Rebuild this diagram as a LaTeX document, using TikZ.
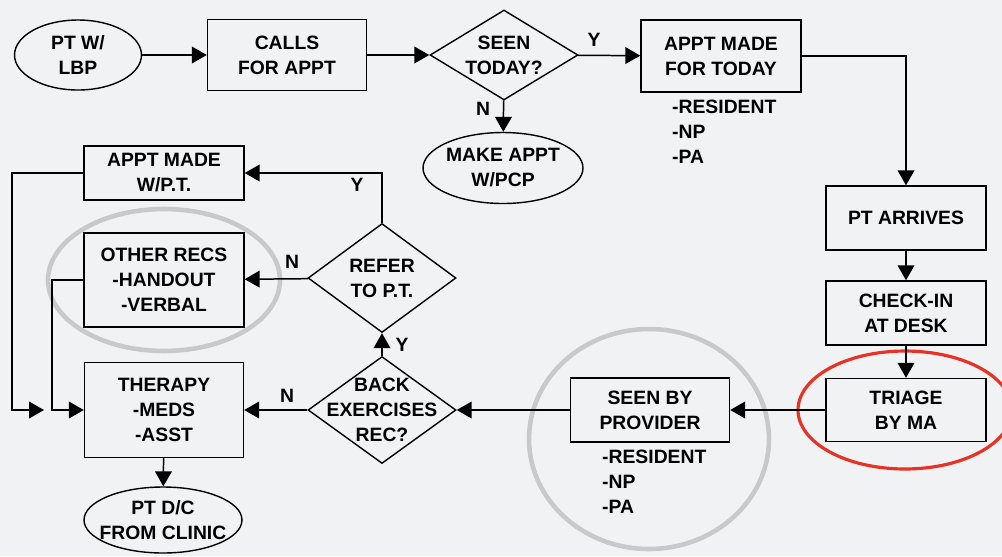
\documentclass[tikz,border=0pt]{standalone}
\usepackage{fontspec}
\setmainfont{Liberation Sans}
\usetikzlibrary{arrows.meta,shapes.geometric}

\definecolor{paper}{RGB}{241,242,244}
\definecolor{ringgray}{RGB}{200,201,203}
\definecolor{ringred}{RGB}{232,50,36}

\begin{document}
\begin{tikzpicture}[
  x=0.02cm, y=-0.02cm,
  font=\fontsize{11}{14.2}\selectfont\bfseries,
  box/.style={draw, line width=0.8pt, align=center, inner sep=2pt},
  oval/.style={draw, ellipse, line width=0.8pt, inner sep=0pt},
  dec/.style={draw, diamond, line width=0.8pt, inner sep=0pt},
  inner/.style={align=center},
  arr/.style={-{Triangle[length=8.5pt,width=9.5pt]}, line width=0.85pt},
  yn/.style={inner sep=0pt},
  ring/.style={draw=ringgray, line width=2.6pt},
  redring/.style={draw=ringred, line width=1.8pt}
]
\path[use as bounding box, fill=paper] (0,0) rectangle (1002,556);

% highlight rings
\draw[ring] (164,280) ellipse [x radius=2.32cm, y radius=1.42cm];
\draw[ring] (649,439) ellipse [x radius=2.40cm, y radius=2.20cm];
\draw[redring] (905,410) ellipse [x radius=2.14cm, y radius=1.18cm];

% top row
\node[oval, minimum width=2.54cm, minimum height=1.40cm,
      label={[inner]center:{PT W/\\LBP}}] (ptlbp) at (78,55) {};
\node[box, minimum width=3.18cm, minimum height=1.42cm] (calls) at (287,55) {CALLS\\FOR APPT};
\node[dec, minimum width=2.96cm, minimum height=1.80cm,
      label={[inner]center:{SEEN\\TODAY?}}] (seen) at (504,55) {};
\node[box, minimum width=3.20cm, minimum height=1.44cm] (apptday) at (721,56) {APPT MADE\\FOR TODAY};
\node[align=left, anchor=west] (staffa) at (666,132) {-RESIDENT\\-NP\\-PA};
\node[oval, minimum width=3.20cm, minimum height=1.42cm,
      label={[inner]center:{MAKE APPT\\W/PCP}}] (pcp) at (503,168) {};

% right column
\node[box, minimum width=3.20cm, minimum height=1.28cm] (arrive) at (906,218) {PT ARRIVES};
\node[box, minimum width=3.20cm, minimum height=1.28cm] (checkin) at (906,313) {CHECK-IN\\AT DESK};
\node[box, minimum width=3.20cm, minimum height=1.26cm] (triage) at (906,410) {TRIAGE\\BY MA};

% bottom row
\node[box, minimum width=3.18cm, minimum height=1.28cm] (provider) at (650,410) {SEEN BY\\PROVIDER};
\node[align=left, anchor=west] (staffb) at (596,482) {-RESIDENT\\-NP\\-PA};
\node[dec, minimum width=2.96cm, minimum height=2.14cm,
      label={[inner]center:{BACK\\EXERCISES\\REC?}}] (backex) at (382,410) {};
\node[dec, minimum width=2.96cm, minimum height=2.18cm,
      label={[inner]center:{REFER\\TO P.T.}}] (refer) at (382,278) {};

% left column
\node[box, minimum width=3.20cm, minimum height=1.08cm] (apptpt) at (164,173) {APPT MADE\\W/P.T.};
\node[box, minimum width=3.20cm, minimum height=1.88cm] (recs) at (164,280) {OTHER RECS\\-HANDOUT\\-VERBAL};
\node[box, minimum width=3.18cm, minimum height=1.90cm] (therapy) at (164,410) {THERAPY\\-MEDS\\-ASST};
\node[oval, minimum width=3.16cm, minimum height=1.32cm,
      label={[inner]center:{PT D/C\\FROM CLINIC}}] (discharge) at (163,520) {};

% yes / no labels
\node[yn] (ya) at (594,40) {Y};
\node[yn] (na) at (483,109) {N};
\node[yn] (yb) at (357,185) {Y};
\node[yn] (nb) at (292,262) {N};
\node[yn] (yc) at (402,345) {Y};
\node[yn] (nc) at (287,396) {N};

\coordinate (lft) at (12,410);
\coordinate (gap) at (44,410);
\coordinate (jn) at (52,410);

\draw[arr] (ptlbp) -- (calls);
\draw[arr] (calls) -- (seen);
\draw[arr] (seen) -- (apptday);
\draw[arr] (seen) -- (pcp);
\draw[arr] (apptday) -| (arrive);
\draw[arr] (arrive) -- (checkin);
\draw[arr] (checkin) -- (triage);
\draw[arr] (triage) -- (provider);
\draw[arr] (provider) -- (backex);
\draw[arr] (backex) -- (refer);
\draw[arr] (refer) |- (apptpt);
\draw[arr] (refer) -- (recs);
\draw[arr] (backex) -- (therapy);
\draw[arr] (apptpt.west) -| (lft) -- (gap);
\draw[arr] (recs.west) -| (jn) -- (therapy);
\draw[arr] (therapy) -- (discharge);

\end{tikzpicture}
\end{document}
